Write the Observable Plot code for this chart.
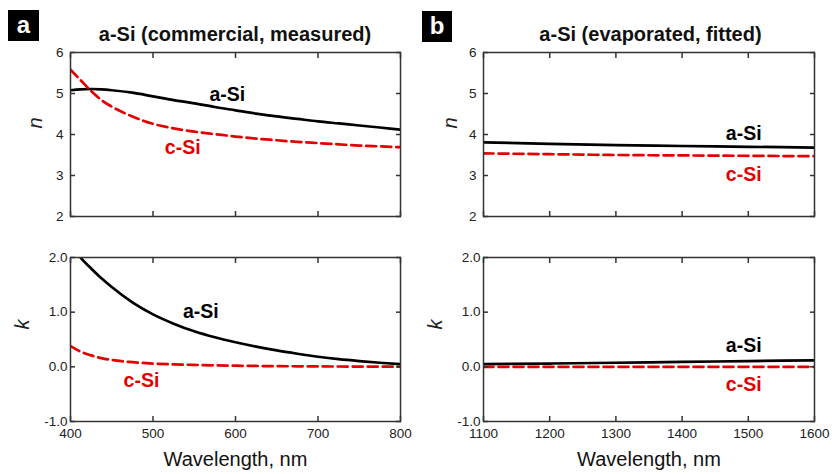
<!DOCTYPE html>
<html>
<head>
<meta charset="utf-8">
<script src="https://cdn.jsdelivr.net/npm/d3@7"></script>
<script src="https://cdn.jsdelivr.net/npm/@observablehq/plot@0.6"></script>
<style>
  body { margin: 0; background: white; }
  #wrap { position: relative; width: 832px; height: 474px; overflow: hidden; font-family: "Liberation Sans", Arial, sans-serif; }
  .abs { position: absolute; }
  .title { font-weight: bold; font-size: 20px; text-align: center; line-height: 22px; color: #111; }
  .tag { background: #000; color: #fff; font-weight: bold; font-size: 24px; text-align: center; line-height: 29px; }
</style>
</head>
<body>
<div id="wrap"></div>
<script>
// ---- data ----
const waveA = [400, 412, 425, 437.5, 450, 475, 500, 525, 550, 575, 600, 625, 650, 675, 700, 725, 750, 775, 800];
const nA_aSi = [5.08, 5.10, 5.11, 5.10, 5.08, 5.02, 4.93, 4.84, 4.76, 4.67, 4.59, 4.51, 4.44, 4.38, 4.32, 4.27, 4.22, 4.17, 4.12];
const nA_cSi = [5.58, 5.33, 5.06, 4.84, 4.68, 4.44, 4.26, 4.15, 4.07, 4.01, 3.95, 3.90, 3.86, 3.82, 3.79, 3.76, 3.73, 3.71, 3.69];
const kA_aSi = [2.25, 2.00, 1.80, 1.62, 1.46, 1.18, 0.96, 0.79, 0.65, 0.54, 0.45, 0.37, 0.30, 0.24, 0.185, 0.14, 0.105, 0.075, 0.05];
const kA_cSi = [0.38, 0.28, 0.21, 0.16, 0.125, 0.085, 0.06, 0.045, 0.035, 0.027, 0.021, 0.016, 0.012, 0.01, 0.008, 0.006, 0.005, 0.004, 0.003];

const waveB = [1100, 1200, 1300, 1400, 1500, 1600];
const nB_aSi = [3.81, 3.77, 3.74, 3.72, 3.70, 3.68];
const nB_cSi = [3.54, 3.52, 3.50, 3.49, 3.48, 3.47];
const kB_aSi = [0.05, 0.06, 0.075, 0.09, 0.105, 0.12];
const kB_cSi = [0, 0, 0, 0, 0, 0];

const xTicksA = [400, 500, 600, 700, 800];
const xTicksB = [1100, 1200, 1300, 1400, 1500, 1600];
const nTicks = [2, 3, 4, 5, 6];
const kTicks = [-1, 0, 1, 2];
const titles = ["a-Si (commercial, measured)", "a-Si (evaporated, fitted)"];
const tags = ["a", "b"];
const seriesNames = ["a-Si", "c-Si"];
const xLabel = "Wavelength, nm";

const RED = "#e30000";
const FONT = "'Liberation Sans', Arial, sans-serif";

function rows(w, v) { return w.map((x, i) => ({w: x, v: v[i]})); }

function panel(o) {
  const tickStyle = {label: null, stroke: "#333", strokeWidth: 1.5, tickFormat: () => ""};
  const marks = [
    Plot.line(rows(o.wave, o.a), {x: "w", y: "v", stroke: "#000", strokeWidth: 2.7, curve: "monotone-x", clip: "frame"}),
    Plot.line(rows(o.wave, o.c), {x: "w", y: "v", stroke: RED, strokeWidth: 2.7, strokeDasharray: "10,5", curve: "monotone-x", clip: "frame"}),
    Plot.frame({stroke: "#333", strokeWidth: 1.5}),
    // inward ticks on all sides
    Plot.axisY(o.yTicks, {anchor: "left", tickSize: 5, insetLeft: 5, ...tickStyle}),
    Plot.axisY(o.yTicks, {anchor: "right", tickSize: 5, insetRight: 5, ...tickStyle}),
    Plot.axisX(o.xTicks, {anchor: "bottom", tickSize: 5, insetBottom: 5, ...tickStyle}),
    Plot.axisX(o.xTicks, {anchor: "top", tickSize: 5, insetTop: 5, ...tickStyle}),
    // y tick labels
    Plot.axisY(o.yTicks, {anchor: "left", tickSize: 0, tickPadding: o.yPad, tickFormat: o.yFmt, label: null, fontSize: 13.5, fill: "#222"}),
    // y label
    Plot.text([o.yLabel], {text: d => d, frameAnchor: "left", dx: o.yLabelDx, dy: o.yLabelDy, rotate: -90, fontStyle: "italic", fontSize: 20, fill: "#222", fontFamily: FONT}),
    // series labels
    Plot.text([o.labA], {x: "x", y: "y", text: "t", fontWeight: "bold", fontSize: 19.5, fill: "#000", fontFamily: FONT}),
    Plot.text([o.labC], {x: "x", y: "y", text: "t", fontWeight: "bold", fontSize: 19.5, fill: RED, fontFamily: FONT})
  ];
  if (o.showX) {
    marks.push(Plot.axisX(o.xTicks, {anchor: "bottom", tickSize: 0, tickPadding: 7, tickFormat: d => String(d), label: null, fontSize: 13.5, fill: "#222"}));
    marks.push(Plot.text([xLabel], {text: d => d, frameAnchor: "bottom", dy: 44, fontSize: 20, fill: "#111", fontFamily: FONT}));
  }
  return Plot.plot({
    width: o.width, height: o.height,
    marginLeft: o.ml, marginRight: o.mr, marginTop: o.mt, marginBottom: o.mb,
    style: {fontFamily: FONT, fontSize: "14px", color: "#222", background: "transparent", overflow: "visible"},
    x: {domain: o.xDomain, axis: null},
    y: {domain: o.yDomain, axis: null},
    marks
  });
}

const wrap = document.getElementById("wrap");
function place(el, left, top) {
  const d = document.createElement("div");
  d.className = "abs";
  d.style.left = left + "px";
  d.style.top = top + "px";
  d.appendChild(el);
  wrap.appendChild(d);
}
function html(cls, text, left, top, width, height) {
  const d = document.createElement("div");
  d.className = "abs " + cls;
  d.textContent = text;
  d.style.left = left + "px";
  d.style.top = top + "px";
  d.style.width = width + "px";
  if (height) d.style.height = height + "px";
  wrap.appendChild(d);
}

// hyphen-minus as in the reference
const fmtN = d => String(d), fmtK = d => d.toFixed(1);

// left column
place(panel({
  wave: waveA, a: nA_aSi, c: nA_cSi, xDomain: [400, 800], xTicks: xTicksA,
  yDomain: [2, 6], yTicks: nTicks, yFmt: fmtN, yPad: 7, yLabel: "n", yLabelDx: -35, yLabelDy: -6,
  labA: {x: 590, y: 4.98, t: seriesNames[0]}, labC: {x: 536, y: 3.68, t: seriesNames[1]},
  showX: false, width: 415, height: 180, ml: 70, mr: 15, mt: 7, mb: 9
}), 0, 45);
place(panel({
  wave: waveA, a: kA_aSi, c: kA_cSi, xDomain: [400, 800], xTicks: xTicksA,
  yDomain: [-1, 2], yTicks: kTicks, yFmt: fmtK, yPad: 3, yLabel: "k", yLabelDx: -48, yLabelDy: -10,
  labA: {x: 558, y: 1.0, t: seriesNames[0]}, labC: {x: 486, y: -0.26, t: seriesNames[1]},
  showX: true, width: 415, height: 224, ml: 70, mr: 15, mt: 7, mb: 53
}), 0, 250);

// right column
place(panel({
  wave: waveB, a: nB_aSi, c: nB_cSi, xDomain: [1100, 1600], xTicks: xTicksB,
  yDomain: [2, 6], yTicks: nTicks, yFmt: fmtN, yPad: 7, yLabel: "n", yLabelDx: -33, yLabelDy: -6,
  labA: {x: 1493, y: 4.03, t: seriesNames[0]}, labC: {x: 1493, y: 3.02, t: seriesNames[1]},
  showX: false, width: 417, height: 180, ml: 68, mr: 18, mt: 7, mb: 9
}), 415, 45);
place(panel({
  wave: waveB, a: kB_aSi, c: kB_cSi, xDomain: [1100, 1600], xTicks: xTicksB,
  yDomain: [-1, 2], yTicks: kTicks, yFmt: fmtK, yPad: 3, yLabel: "k", yLabelDx: -48, yLabelDy: -10,
  labA: {x: 1493, y: 0.385, t: seriesNames[0]}, labC: {x: 1493, y: -0.32, t: seriesNames[1]},
  showX: true, width: 417, height: 224, ml: 68, mr: 18, mt: 7, mb: 53
}), 415, 250);

// titles and panel tags
html("title", titles[0], 70, 23, 330);
html("title", titles[1], 485, 23, 331);
html("tag", tags[0], 8, 10, 31, 31);
html("tag", tags[1], 422, 11, 30, 31);
</script>
</body>
</html>
